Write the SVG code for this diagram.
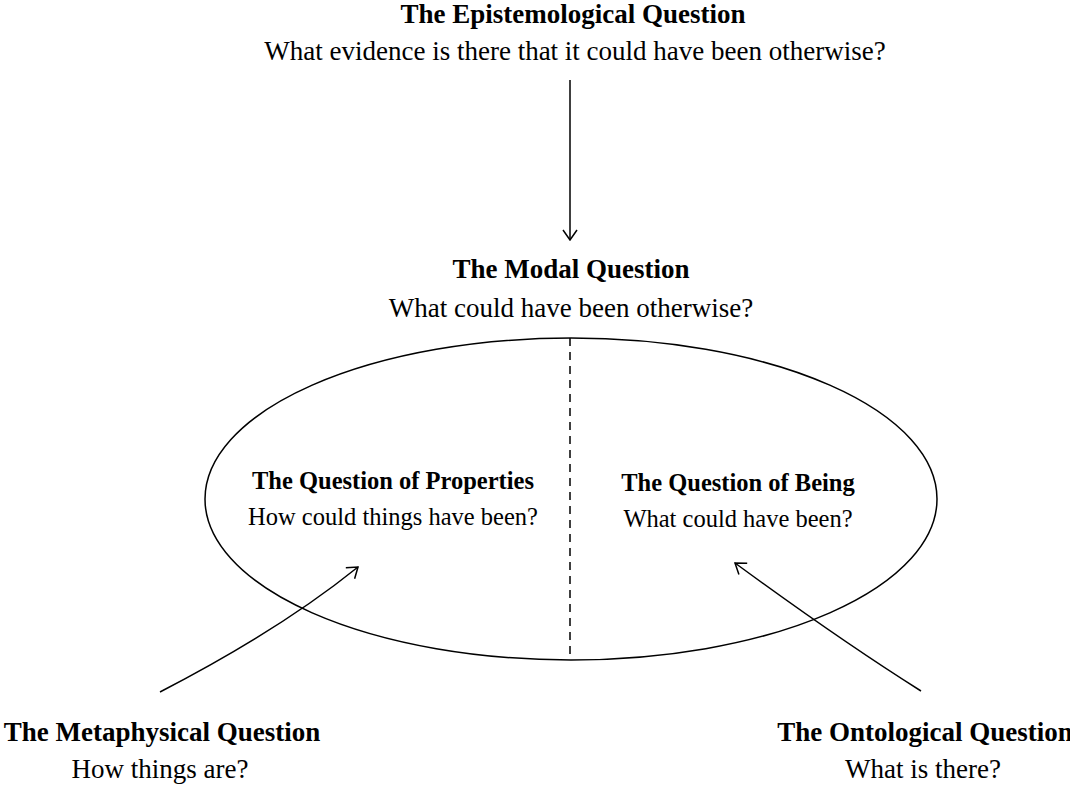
<svg xmlns="http://www.w3.org/2000/svg" width="1070" height="787" viewBox="0 0 1070 787">
<style>
.t{font-family:"Liberation Serif","Times New Roman",serif;font-weight:bold;font-size:27px;text-anchor:middle;fill:#000}
.s{font-family:"Liberation Serif","Times New Roman",serif;font-size:27px;text-anchor:middle;fill:#000}
.i{font-size:24.5px}
.ln{fill:none;stroke:#000;stroke-width:1.5}
</style>
<defs>
<marker id="ah" viewBox="0 0 12 16" refX="11" refY="8" markerWidth="12" markerHeight="16" markerUnits="userSpaceOnUse" orient="auto">
<path d="M1,1 L11,8 L1,15" fill="none" stroke="#000" stroke-width="1.5"/>
</marker>
</defs>
<g id="epistemological">
<text class="t" x="573" y="23">The Epistemological Question</text>
<text class="s" x="575" y="60">What evidence is there that it could have been otherwise?</text>
</g>
<g id="modal">
<text class="t" x="571" y="278">The Modal Question</text>
<text class="s" x="571" y="317">What could have been otherwise?</text>
<ellipse class="ln" cx="571" cy="499" rx="366" ry="161"/>
<line class="ln" x1="570" y1="338" x2="570" y2="660" stroke-dasharray="8,6"/>
</g>
<g id="properties">
<text class="t i" x="393" y="489">The Question of Properties</text>
<text class="s i" x="393" y="525">How could things have been?</text>
</g>
<g id="being">
<text class="t i" x="738" y="491">The Question of Being</text>
<text class="s i" x="738" y="527">What could have been?</text>
</g>
<g id="metaphysical">
<text class="t" x="162" y="741">The Metaphysical Question</text>
<text class="s" x="160" y="778">How things are?</text>
</g>
<g id="ontological">
<text class="t" x="925" y="741">The Ontological Question</text>
<text class="s" x="923" y="778">What is there?</text>
</g>
<g id="connectors">
<path class="ln" d="M570,80 L570,240" marker-end="url(#ah)"/>
<path class="ln" d="M160,692 Q280,630 358,567" marker-end="url(#ah)"/>
<path class="ln" d="M921,691 Q840,640 735,563" marker-end="url(#ah)"/>
</g>
</svg>
